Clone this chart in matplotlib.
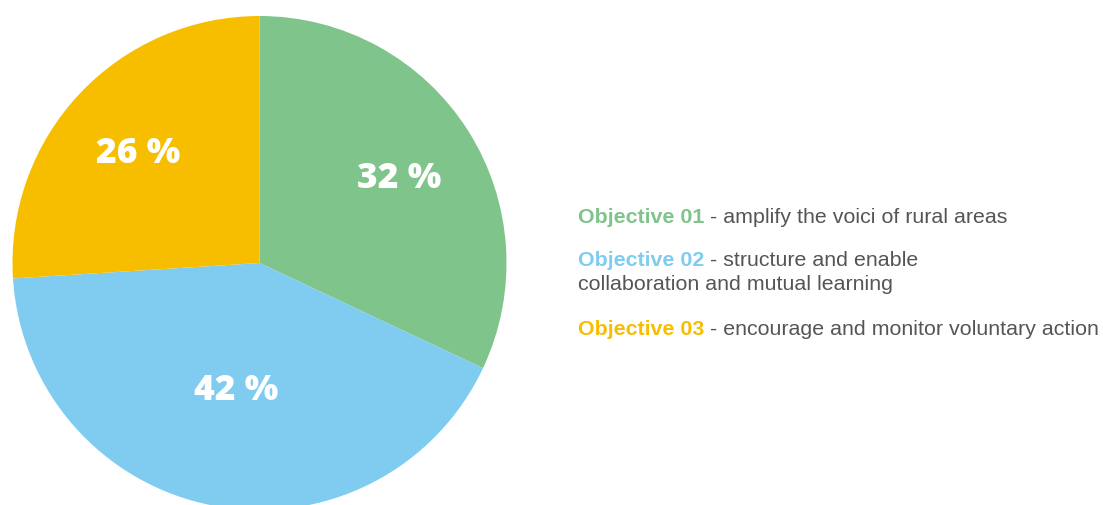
import numpy as np
import matplotlib
matplotlib.use("Agg")
import matplotlib.pyplot as plt

# Data
categories = ["Objective 01", "Objective 02", "Objective 03"]
shares = [32, 42, 26]
descriptions = [" - amplify the voici of rural areas",
                " - structure and enable\ncollaboration and mutual learning",
                " - encourage and monitor voluntary action"]
colors = ["#7FC48A", "#80CCF0", "#F7BE00"]

W, H = 1103, 506
fig = plt.figure(figsize=(W / 100, H / 100), dpi=100)
ax = fig.add_axes([0, 0, 1, 1])

cx, cy, R = 259.5, 242, 247
wedges, texts = ax.pie(shares, colors=colors, startangle=90, counterclock=False,
                       center=(cx, cy), radius=R,
                       wedgeprops=dict(linewidth=0))
ax.set_xlim(0, W)
ax.set_ylim(0, H)
ax.set_aspect("equal")
ax.axis("off")

fs_lab = 25.5
cap_px = 0.714 * fs_lab * 100 / 72
label_dist = [0.67, 0.51, 0.675]
for w, s, d in zip(wedges, shares, label_dist):
    mid = np.deg2rad((w.theta1 + w.theta2) / 2)
    ax.annotate(f"{s} %", xy=(cx + d * R * np.cos(mid), cy + d * R * np.sin(mid)),
                xytext=(0, -cap_px / 2), textcoords="offset pixels",
                ha="center", va="baseline", color="white", fontsize=fs_lab,
                fontweight=800, family="Open Sans")

# Legend text
x0 = 578
fs = 15.4
baselines = [223, 266, 335]
line_gap = 24
for cat, desc, col, yb in zip(categories, descriptions, colors, baselines):
    lines = desc.split("\n")
    t = ax.text(x0, H - yb, cat, color=col, fontsize=fs, fontweight="bold",
                family="Liberation Sans", va="baseline", ha="left")
    ax.annotate(lines[0], xy=(1, 0), xycoords=t, va="bottom", ha="left",
                color="#555555", fontsize=fs, family="Liberation Sans")
    for k, ln in enumerate(lines[1:], start=1):
        ax.text(x0, H - yb - line_gap * k, ln, color="#555555", fontsize=fs,
                family="Liberation Sans", va="baseline", ha="left")

fig.savefig("out.png", dpi=100)
